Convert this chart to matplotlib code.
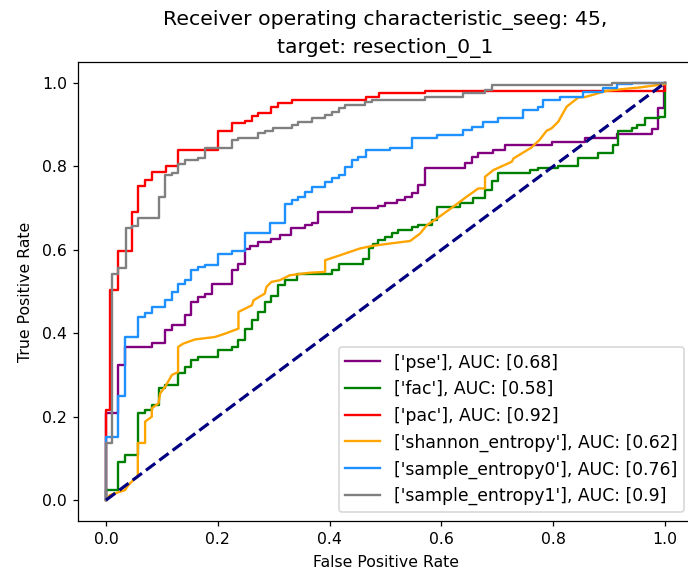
import matplotlib
matplotlib.use("Agg")
import matplotlib.pyplot as plt

# ---- data ----
# stepped ROC curves: x = position of each vertical jump, y = level after it
pse_fpr = [0, 0, 0.021, 0.034, 0.082, 0.106, 0.118, 0.141, 0.153, 0.165, 0.177,
           0.189, 0.225, 0.237, 0.249, 0.258, 0.272, 0.296, 0.311, 0.331, 0.356,
           0.368, 0.380, 0.440, 0.487, 0.499, 0.520, 0.535, 0.547, 0.559, 0.571,
           0.642, 0.654, 0.666, 0.693, 0.714, 0.797, 0.857, 0.914, 0.976, 0.988,
           0.998, 1.0]
pse_tpr = [0, 0.208, 0.323, 0.367, 0.377, 0.407, 0.419, 0.443, 0.475, 0.487, 0.495,
           0.519, 0.551, 0.567, 0.601, 0.609, 0.619, 0.627, 0.635, 0.651, 0.659,
           0.665, 0.691, 0.699, 0.705, 0.711, 0.719, 0.727, 0.735, 0.755, 0.795,
           0.807, 0.823, 0.831, 0.840, 0.851, 0.859, 0.869, 0.877, 0.889, 0.939,
           1.0, 1.0]

fac_fpr = [0, 0, 0.021, 0.034, 0.057, 0.070, 0.082, 0.094, 0.106, 0.129, 0.141,
           0.153, 0.165, 0.201, 0.225, 0.237, 0.249, 0.261, 0.272, 0.284, 0.296,
           0.307, 0.320, 0.341, 0.404, 0.416, 0.460, 0.470, 0.477, 0.487, 0.499,
           0.511, 0.523, 0.547, 0.559, 0.583, 0.592, 0.633, 0.657, 0.678, 0.690,
           0.702, 0.758, 0.773, 0.809, 0.845, 0.880, 0.907, 0.916, 0.940, 0.949,
           0.964, 0.990, 1.0]
fac_tpr = [0, 0.024, 0.092, 0.108, 0.208, 0.216, 0.228, 0.268, 0.276, 0.305, 0.319,
           0.335, 0.342, 0.359, 0.366, 0.383, 0.409, 0.431, 0.451, 0.475, 0.489,
           0.515, 0.527, 0.543, 0.551, 0.567, 0.579, 0.605, 0.615, 0.623, 0.631,
           0.639, 0.647, 0.655, 0.659, 0.671, 0.703, 0.711, 0.723, 0.743, 0.765,
           0.783, 0.791, 0.795, 0.800, 0.821, 0.832, 0.851, 0.885, 0.891, 0.899,
           0.915, 0.918, 1.0]

pac_fpr = [0, 0, 0.007, 0.022, 0.046, 0.058, 0.070, 0.082, 0.107, 0.129, 0.201,
           0.225, 0.249, 0.261, 0.272, 0.296, 0.308, 0.332, 0.466, 0.489, 0.571,
           1.0]
pac_tpr = [0, 0.216, 0.503, 0.597, 0.691, 0.752, 0.767, 0.787, 0.800, 0.840, 0.885,
           0.903, 0.909, 0.920, 0.928, 0.943, 0.952, 0.960, 0.965, 0.975, 0.981,
           1.0]

se0_fpr = [0, 0, 0.021, 0.034, 0.058, 0.070, 0.082, 0.106, 0.118, 0.129, 0.141,
           0.153, 0.165, 0.177, 0.201, 0.225, 0.249, 0.293, 0.320, 0.332, 0.344,
           0.356, 0.368, 0.392, 0.404, 0.416, 0.428, 0.440, 0.451, 0.466, 0.508,
           0.547, 0.592, 0.639, 0.654, 0.675, 0.702, 0.746, 0.773, 0.782, 0.812,
           0.854, 0.889, 0.914, 0.940, 1.0]
se0_tpr = [0, 0.152, 0.249, 0.390, 0.440, 0.448, 0.463, 0.479, 0.499, 0.519, 0.527,
           0.551, 0.559, 0.563, 0.590, 0.597, 0.641, 0.665, 0.709, 0.720, 0.727,
           0.739, 0.751, 0.763, 0.771, 0.779, 0.799, 0.815, 0.823, 0.839, 0.845,
           0.869, 0.875, 0.887, 0.895, 0.907, 0.915, 0.935, 0.943, 0.958, 0.965,
           0.979, 0.987, 0.997, 1.0, 1.0]

se1_fpr = [0, 0, 0.010, 0.022, 0.035, 0.046, 0.058, 0.094, 0.106, 0.118, 0.129,
           0.141, 0.165, 0.177, 0.225, 0.237, 0.272, 0.284, 0.299, 0.332, 0.344,
           0.368, 0.392, 0.404, 0.416, 0.428, 0.463, 0.475, 0.571, 0.639, 0.678,
           0.690, 0.905, 1.0]
se1_tpr = [0, 0.137, 0.543, 0.556, 0.651, 0.657, 0.677, 0.727, 0.779, 0.784, 0.805,
           0.815, 0.821, 0.843, 0.863, 0.869, 0.879, 0.885, 0.891, 0.899, 0.907,
           0.915, 0.923, 0.931, 0.939, 0.947, 0.954, 0.960, 0.966, 0.975, 0.982,
           0.994, 1.0, 1.0]

# shannon entropy curve has tied scores -> sloped segments, plain polyline
sh_fpr = [0, 0.007, 0.034, 0.040, 0.049, 0.057, 0.057, 0.070, 0.070, 0.082, 0.082,
          0.094, 0.097, 0.106, 0.118, 0.129, 0.129, 0.138, 0.159, 0.195, 0.213,
          0.237, 0.237, 0.261, 0.264, 0.284, 0.287, 0.296, 0.311, 0.329, 0.365,
          0.392, 0.392, 0.419, 0.454, 0.475, 0.508, 0.544, 0.562, 0.574, 0.592,
          0.621, 0.645, 0.666, 0.678, 0.678, 0.693, 0.726, 0.729, 0.761, 0.776,
          0.788, 0.797, 0.809, 0.824, 0.845, 0.857, 0.896, 0.931, 0.955, 0.982,
          1.0, 1.0]
sh_tpr = [0, 0.012, 0.024, 0.036, 0.048, 0.056, 0.137, 0.137, 0.188, 0.200, 0.220,
          0.232, 0.256, 0.272, 0.300, 0.307, 0.367, 0.375, 0.385, 0.391, 0.399,
          0.411, 0.451, 0.467, 0.479, 0.495, 0.511, 0.523, 0.527, 0.539, 0.545,
          0.547, 0.575, 0.587, 0.603, 0.609, 0.615, 0.621, 0.639, 0.659, 0.675,
          0.703, 0.727, 0.747, 0.747, 0.775, 0.791, 0.811, 0.819, 0.845, 0.864,
          0.885, 0.891, 0.907, 0.943, 0.965, 0.966, 0.981, 0.986, 0.989, 0.994,
          0.997, 1.0]

features = ["pse", "fac", "pac", "shannon_entropy", "sample_entropy0", "sample_entropy1"]
aucs = [0.68, 0.58, 0.92, 0.62, 0.76, 0.9]
colors = ["purple", "green", "red", "orange", "dodgerblue", "grey"]
curves = [(pse_fpr, pse_tpr), (fac_fpr, fac_tpr), (pac_fpr, pac_tpr),
          (sh_fpr, sh_tpr), (se0_fpr, se0_tpr), (se1_fpr, se1_tpr)]

# ---- figure ----
fig = plt.figure(figsize=(688 / 113, 576 / 113), dpi=113)
ax = fig.add_axes([78 / 688, 55 / 576, 615 / 688, 459 / 576])

for name, auc, col, (fpr, tpr) in zip(features, aucs, colors, curves):
    ds = "default" if name == "shannon_entropy" else "steps-post"
    ax.plot(fpr, tpr, color=col, lw=1.5, drawstyle=ds,
            label=f"['{name}'], AUC: [{auc}]")

ax.plot([0, 1], [0, 1], color="navy", lw=2, linestyle="--")
ax.set_xlabel("False Positive Rate", labelpad=5)
ax.set_ylabel("True Positive Rate", labelpad=6)
ax.set_title("Receiver operating characteristic_seeg: 45,\ntarget: resection_0_1",
             fontsize=13, linespacing=1.5)
ax.legend(loc="lower right", fontsize=11)

fig.savefig("out.png", dpi=113)
plt.close(fig)
